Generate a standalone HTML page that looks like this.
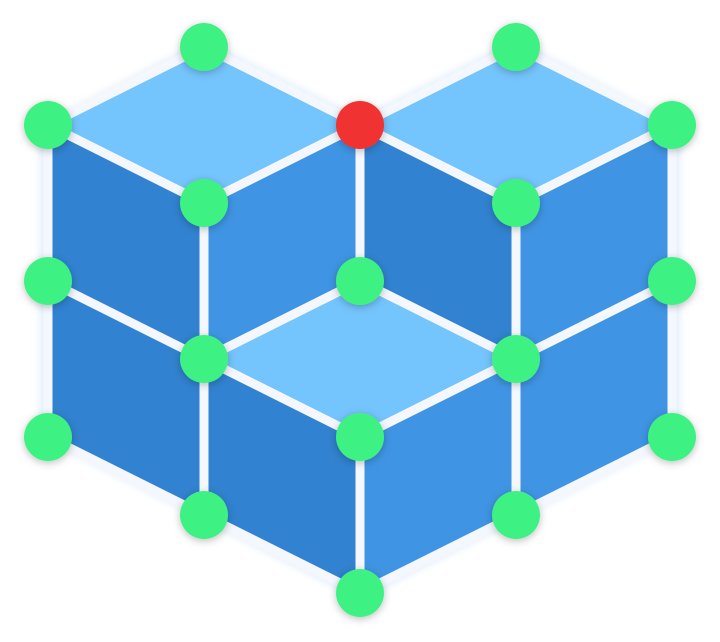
<!DOCTYPE html>
<html><head><meta charset="utf-8"><style>
html,body{margin:0;padding:0;background:#fff;width:720px;height:642px;overflow:hidden}
svg{display:block}
</style></head><body>
<svg width="720" height="642" viewBox="0 0 720 642">
<defs>
<filter id="sh" x="-50%" y="-50%" width="200%" height="200%"><feDropShadow dx="0" dy="2" stdDeviation="4" flood-color="#000" flood-opacity="0.25"/></filter>
<filter id="glow" x="-10%" y="-10%" width="120%" height="120%"><feGaussianBlur stdDeviation="4"/></filter>
</defs>
<g filter="url(#glow)">
<polygon points="204,40 360,118 516,40 680,125 680,437 360,600 40,437 40,125" fill="#e3eefb"/>
</g>
<g stroke="#f4f8fe" stroke-width="9" stroke-linejoin="round">
<polygon points="204,47 360,125 204,203 48,125" fill="#74c4fd"/>
<polygon points="48,125 204,203 204,515 48,437" fill="#3182d0"/>
<polygon points="204,203 360,125 360,281 204,359" fill="#3f94e3"/>
<polygon points="516,47 672,125 516,203 360,125" fill="#74c4fd"/>
<polygon points="360,125 516,203 516,359 360,281" fill="#3182d0"/>
<polygon points="516,203 672,125 672,437 516,515" fill="#3f94e3"/>
<polygon points="360,281 516,359 360,437 204,359" fill="#74c4fd"/>
<polygon points="204,359 360,437 360,593 204,515" fill="#3182d0"/>
<polygon points="360,437 516,359 516,515 360,593" fill="#3f94e3"/>
<line x1="48" y1="281" x2="204" y2="359"/>
<line x1="672" y1="281" x2="516" y2="359"/>
</g>
<g filter="url(#sh)" fill="#3df283">
<circle cx="204" cy="47" r="24"/>
<circle cx="516" cy="47" r="24"/>
<circle cx="48" cy="125" r="24"/>
<circle cx="360" cy="125" r="24" fill="#f03032"/>
<circle cx="672" cy="125" r="24"/>
<circle cx="204" cy="203" r="24"/>
<circle cx="516" cy="203" r="24"/>
<circle cx="48" cy="281" r="24"/>
<circle cx="360" cy="281" r="24"/>
<circle cx="672" cy="281" r="24"/>
<circle cx="204" cy="359" r="24"/>
<circle cx="516" cy="359" r="24"/>
<circle cx="48" cy="437" r="24"/>
<circle cx="360" cy="437" r="24"/>
<circle cx="672" cy="437" r="24"/>
<circle cx="204" cy="515" r="24"/>
<circle cx="516" cy="515" r="24"/>
<circle cx="360" cy="593" r="24"/>
</g>
</svg>
</body></html>
